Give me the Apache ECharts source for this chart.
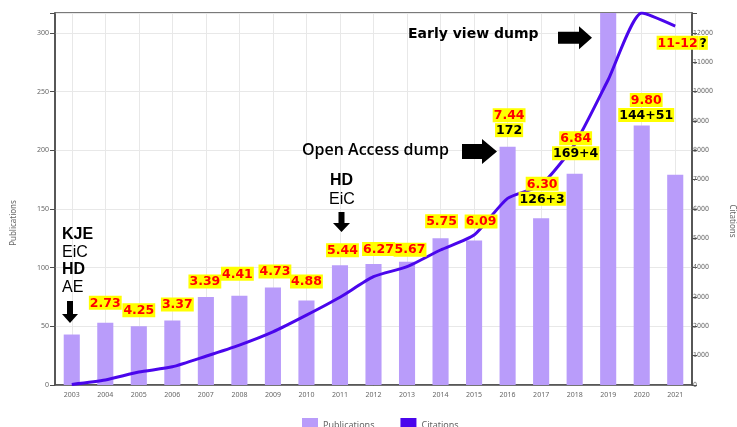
<!DOCTYPE html>
<html>
<head>
<meta charset="utf-8">
<script src="https://cdn.jsdelivr.net/npm/echarts@6/dist/echarts.min.js"></script>
<style>
  html, body { margin: 0; padding: 0; background: #fff; }
  #chart { width: 737px; height: 427px; }
</style>
</head>
<body>
<div id="chart"></div>
<script>
// data
const years = ['2003', '2004', '2005', '2006', '2007', '2008', '2009', '2010', '2011', '2012',
  '2013', '2014', '2015', '2016', '2017', '2018', '2019', '2020', '2021'];
const publications = [43, 53, 50, 55, 75, 76, 83, 72, 102, 103, 105, 125, 123, 203, 142, 180, 317, 221, 179];
const citations = [20, 170, 440, 620, 980, 1360, 1810, 2380, 2990, 3690, 4030, 4600, 5110, 6360, 6820, 8200, 10400, 12675, 12230];

const pubTicks = [0, 50, 100, 150, 200, 250, 300];
const citeTicks = [0, 1000, 2000, 3000, 4000, 5000, 6000, 7000, 8000, 9000, 10000, 11000, 12000];

// annotations: impact factor per year, and a second line with counts
const ifYears = ['2004', '2005', '2006', '2007', '2008', '2009', '2010', '2011', '2012',
  '2013', '2014', '2015', '2016', '2017', '2018', '2019', '2020', '2021'];
const impactFactors = ['2.73', '4.25', '3.37', '3.39', '4.41', '4.73', '4.88', '5.44', '6.27',
  '5.67', '5.75', '6.09', '7.44', '6.30', '6.84', '8.15', '9.80', '11-12'];
const countLines = ['', '', '', '', '', '', '', '', '', '', '', '', '172', '126+3', '169+4', '246+52', '144+51', ''];
const suffixes = ['', '', '', '', '', '', '', '', '', '', '', '', '', '', '', '', '', '?'];

// label placement relative to bar top (pixels)
const labelOffsets = [[0, -20], [0, -16], [5, -16], [-1, -15.5], [-2, -22], [2, -16], [0, -19], [2.5, -15],
  [5, -15], [3, -12], [1, -17], [7, -19], [1.5, -24], [1, -27], [1, -28], [12, 55], [4.5, -18], [7, -132]];

const pubMax = 316.875;
const citeMax = 12675;

const chart = echarts.init(document.getElementById('chart'));

const hl = { backgroundColor: '#ffff00', fontFamily: 'DejaVu Sans', fontWeight: 'bold', fontSize: 12.5, lineHeight: 15, padding: [1, 1, 0, 1] };

const markData = ifYears.map((y, i) => {
  const idx = years.indexOf(y);
  let text = '{r|' + impactFactors[i] + '}';
  if (suffixes[i]) text += '{k|' + suffixes[i] + '}';
  if (countLines[i]) text += '\n{k|' + countLines[i] + '}';
  return {
    coord: [y, publications[idx]],
    label: { formatter: text, offset: labelOffsets[i] }
  };
});

const downArrow = (cx, top, tip, shaftW, headW, headH) => [
  [cx - shaftW / 2, top], [cx + shaftW / 2, top], [cx + shaftW / 2, tip - headH], [cx + headW / 2, tip - headH],
  [cx, tip], [cx - headW / 2, tip - headH], [cx - shaftW / 2, tip - headH]
];
const rightArrow = (left, cy, tip, shaftH, headH, headW) => [
  [left, cy - shaftH / 2], [tip - headW, cy - shaftH / 2], [tip - headW, cy - headH / 2], [tip, cy],
  [tip - headW, cy + headH / 2], [tip - headW, cy + shaftH / 2], [left, cy + shaftH / 2]
];

const txt = (x, y, text, size, weight, family, extra) => ({
  type: 'text', z: 20, x: x, y: y,
  style: Object.assign({ text: text, fontSize: size, fontWeight: weight, fontFamily: family, fill: '#000', verticalAlign: 'top' }, extra || {})
});

const axisColor = '#4d4d4d';

const option = {
  animation: false,
  backgroundColor: '#fff',
  grid: { left: 55, right: 45, top: 13, bottom: 42, show: true, borderColor: axisColor, borderWidth: 1.5 },
  legend: {
    left: 302, top: 418, padding: 0, itemWidth: 16, itemHeight: 14, itemGap: 26,
    data: [{ name: 'Publications', icon: 'rect' }, { name: 'Citations', icon: 'rect' }],
    textStyle: { fontSize: 9, color: '#666', fontFamily: 'Noto Sans' }
  },
  xAxis: {
    type: 'category',
    data: years,
    axisLine: { lineStyle: { color: axisColor, width: 1.5 } },
    axisTick: { alignWithLabel: true, interval: 0, length: 4, lineStyle: { color: axisColor } },
    axisLabel: { interval: 0, fontSize: 7, color: '#666', margin: 6, fontFamily: 'Noto Sans' },
    splitLine: { show: true, alignWithLabel: true, interval: 0, lineStyle: { color: '#e8e8e8', width: 1 } }
  },
  yAxis: [
    {
      type: 'value', min: 0, max: pubMax, interval: 50,
      axisLine: { show: true, lineStyle: { color: axisColor, width: 1.5 } },
      axisTick: { show: true, length: 5, lineStyle: { color: axisColor } },
      axisLabel: { fontSize: 7, color: '#666', margin: 6, fontFamily: 'Noto Sans',
        formatter: v => pubTicks.includes(v) ? String(v) : '' },
      splitLine: { lineStyle: { color: '#e8e8e8', width: 1 } }
    },
    {
      type: 'value', min: 0, max: citeMax, interval: 1000, position: 'right',
      axisLine: { show: true, lineStyle: { color: axisColor, width: 1.5 } },
      axisTick: { show: true, length: 5, lineStyle: { color: axisColor } },
      axisLabel: { fontSize: 7, color: '#666', margin: 1, fontFamily: 'Liberation Sans Narrow, DejaVu Sans Condensed, Noto Sans',
        formatter: v => citeTicks.includes(v) ? String(v) : '' },
      splitLine: { show: false }
    }
  ],
  series: [
    {
      name: 'Publications',
      type: 'bar',
      data: publications,
      barWidth: '48%',
      itemStyle: { color: '#b99cfa' },
      markPoint: {
        symbol: 'circle', symbolSize: 1, itemStyle: { color: 'transparent' }, silent: true, z: 10,
        label: {
          show: true, position: 'inside',
          rich: {
            r: Object.assign({ color: '#ff0000' }, hl),
            k: Object.assign({ color: '#000000' }, hl)
          }
        },
        data: markData
      }
    },
    {
      name: 'Citations',
      type: 'line',
      yAxisIndex: 1,
      data: citations,
      smooth: 0.2,
      showSymbol: false,
      itemStyle: { color: '#4a06ec' },
      lineStyle: { color: '#4a06ec', width: 3 }
    }
  ],
  graphic: [
    txt(14, 223, 'Publications', 8, 'normal', 'Noto Sans', { fill: '#666', align: 'center', verticalAlign: 'middle' }),
    txt(732, 221, 'Citations', 8, 'normal', 'Noto Sans', { fill: '#666', align: 'center', verticalAlign: 'middle' }),
    txt(62, 227, 'KJE', 16, 'bold', 'Liberation Sans'),
    txt(62, 245, 'EiC', 16, 'normal', 'Liberation Sans'),
    txt(62, 262, 'HD', 16, 'bold', 'Liberation Sans'),
    txt(62, 280, 'AE', 16, 'normal', 'Liberation Sans'),
    txt(330, 173, 'HD', 16, 'bold', 'Liberation Sans'),
    txt(329, 192, 'EiC', 16, 'normal', 'Liberation Sans'),
    txt(302, 142, 'Open Access dump', 16, 600, 'Open Sans'),
    txt(408, 27, 'Early view dump', 14, 'bold', 'DejaVu Sans'),
    { type: 'polygon', z: 20, shape: { points: downArrow(70, 301, 323, 6, 16, 9) }, style: { fill: '#000' } },
    { type: 'polygon', z: 20, shape: { points: downArrow(341.5, 212, 232, 6, 17, 9) }, style: { fill: '#000' } },
    { type: 'polygon', z: 20, shape: { points: rightArrow(462, 151.5, 497, 15, 25, 15) }, style: { fill: '#000' } },
    { type: 'polygon', z: 20, shape: { points: rightArrow(558, 37.7, 592, 12, 23, 13) }, style: { fill: '#000' } }
  ]
};

// rotate the axis titles
option.graphic[0].rotation = Math.PI / 2;
option.graphic[1].rotation = -Math.PI / 2;

chart.setOption(option);
</script>
</body>
</html>
